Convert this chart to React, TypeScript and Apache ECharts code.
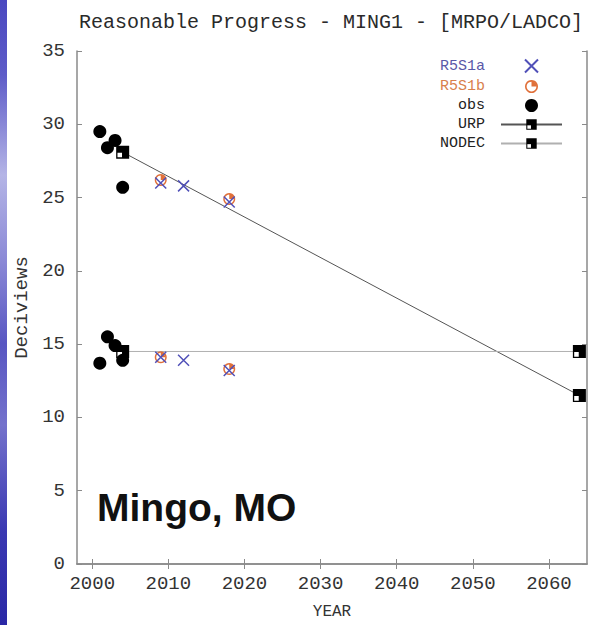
import React, { useEffect, useRef } from "react";
import * as echarts from "echarts";

const titleText = "Reasonable Progress - MING1 - [MRPO/LADCO]";
const siteLabel = "Mingo, MO";
const xTickValues = [2000, 2010, 2020, 2030, 2040, 2050, 2060];
const obsWorst = [[2001, 29.5], [2002, 28.4], [2003, 28.9], [2004, 25.7]];
const obsBest = [[2001, 13.7], [2002, 15.5], [2003, 14.9], [2004, 13.9]];
const r5s1aWorst = [[2009, 26.0], [2012, 25.8], [2018, 24.7]];
const r5s1aBest = [[2009, 14.1], [2012, 13.9], [2018, 13.2]];
const r5s1bWorst = [[2009, 26.2], [2018, 24.9]];
const r5s1bBest = [[2009, 14.1], [2018, 13.3]];
const urpLine = [[2004, 28.1], [2064, 11.5]];
const nodecLine = [[2004, 14.5], [2064, 14.5]];

const squareSym = "path://M0 0H10V10H0Z M1 5.5V9H4.5V5.5Z";
const quadCircleSym =
  "path://M10 0A10 10 0 1 1 9.99 0Z M10 2.5A7.5 7.5 0 1 0 10.01 2.5Z M10 10V2.5A7.5 7.5 0 0 1 17.5 10Z";
const crossSym = "path://M0 0L10 10M10 0L0 10";

const mono = "Liberation Mono";

export default function App() {
  const ref = useRef<HTMLDivElement>(null);
  useEffect(() => {
    if (!ref.current) return;
    const chart = echarts.init(ref.current, null, { renderer: "svg" });
    const axisCol = "#8a8a8a";
    chart.setOption({
      animation: false,
      backgroundColor: "#ffffff",
      title: {
        text: titleText,
        left: 74,
        top: 7,
        textStyle: { fontFamily: mono, fontSize: 20, fontWeight: "normal", color: "#2a2a2a" },
      },
      grid: { left: 77, right: 6, top: 51, bottom: 61, outerBoundsMode: "none" },
      legend: {
        orient: "vertical",
        align: "right",
        right: 25,
        top: 52,
        itemWidth: 61,
        itemHeight: 13,
        itemGap: 4,
        textStyle: { fontFamily: mono, fontSize: 15, padding: [0, 11, 0, 0] },
        data: [
          { name: "R5S1a", textStyle: { color: "#5a58a8" } },
          { name: "R5S1b", textStyle: { color: "#d8804c" } },
          { name: "obs", textStyle: { color: "#222" } },
          { name: "URP", textStyle: { color: "#222" } },
          { name: "NODEC", textStyle: { color: "#222" } },
        ],
      },
      xAxis: [
        {
          type: "value",
          min: 1998,
          max: 2065,
          name: "YEAR",
          nameLocation: "middle",
          nameGap: 40,
          nameTextStyle: { fontFamily: mono, fontSize: 16, color: "#333" },
          axisLine: { show: true, lineStyle: { color: axisCol, width: 1.5 } },
          axisTick: { show: true, inside: true, length: 5, customValues: xTickValues, lineStyle: { color: axisCol } },
          axisLabel: {
            customValues: xTickValues,
            formatter: (v: number) => String(v),
            fontFamily: mono,
            fontSize: 19,
            color: "#333",
            margin: 10,
          },
          splitLine: { show: false },
        },
        {
          type: "value",
          min: 1998,
          max: 2065,
          position: "top",
          axisLine: { show: true, lineStyle: { color: axisCol, width: 1.5 } },
          axisTick: { show: true, inside: true, length: 5, customValues: xTickValues, lineStyle: { color: axisCol } },
          axisLabel: { show: false },
          splitLine: { show: false },
        },
      ],
      yAxis: [
        {
          type: "value",
          min: 0,
          max: 35,
          interval: 5,
          name: "Deciviews",
          nameLocation: "middle",
          nameGap: 46,
          nameTextStyle: { fontFamily: mono, fontSize: 19, color: "#333" },
          axisLine: { show: true, lineStyle: { color: axisCol, width: 1.5 } },
          axisTick: { show: true, inside: true, length: 5, lineStyle: { color: axisCol } },
          axisLabel: { fontFamily: mono, fontSize: 19, color: "#333", margin: 12 },
          splitLine: { show: false },
        },
        {
          type: "value",
          min: 0,
          max: 35,
          interval: 5,
          position: "right",
          axisLine: { show: true, lineStyle: { color: axisCol, width: 1.5 } },
          axisTick: { show: true, inside: true, length: 5, lineStyle: { color: axisCol } },
          axisLabel: { show: false },
          splitLine: { show: false },
        },
      ],
      series: [
        {
          name: "obs",
          type: "scatter",
          symbol: "circle",
          symbolSize: 13,
          itemStyle: { color: "#000", opacity: 1 },
          data: [...obsWorst, ...obsBest],
        },
        {
          name: "URP",
          type: "line",
          data: urpLine,
          symbol: squareSym,
          symbolSize: 13,
          showSymbol: true,
          itemStyle: { color: "#000" },
          lineStyle: { color: "#555", width: 1 },
          z: 3,
        },
        {
          name: "NODEC",
          type: "line",
          data: nodecLine,
          symbol: squareSym,
          symbolSize: 13,
          showSymbol: true,
          itemStyle: { color: "#000" },
          lineStyle: { color: "#b0b0b0", width: 1 },
          z: 3,
        },
        {
          name: "R5S1b",
          type: "scatter",
          symbol: quadCircleSym,
          symbolSize: 12,
          itemStyle: { color: "#e0703a", opacity: 1 },
          data: [...r5s1bWorst, ...r5s1bBest],
          z: 4,
        },
        {
          name: "R5S1a",
          type: "scatter",
          symbol: crossSym,
          symbolSize: 11,
          itemStyle: { color: "none", borderColor: "#5050b8", borderWidth: 1.5, opacity: 1 },
          data: [...r5s1aWorst, ...r5s1aBest],
          z: 5,
        },
      ],
      graphic: [
        {
          type: "rect",
          left: 0,
          top: 0,
          shape: { width: 7, height: 625 },
          style: {
            fill: new echarts.graphic.LinearGradient(0, 0, 0, 1, [
              { offset: 0, color: "#4a48c0" },
              { offset: 0.12, color: "#5e5cc8" },
              { offset: 0.28, color: "#b4b4e6" },
              { offset: 0.42, color: "#8a88d6" },
              { offset: 0.55, color: "#5856c2" },
              { offset: 0.68, color: "#7472cc" },
              { offset: 0.85, color: "#3a38b2" },
              { offset: 1, color: "#2a28a6" },
            ]),
          },
        },
        {
          type: "text",
          left: 97,
          top: 488,
          style: {
            text: siteLabel,
            font: "bold 39px 'Liberation Sans', Arial, sans-serif",
            fill: "#111",
          },
        },
      ],
    });
    return () => chart.dispose();
  }, []);
  return (
    <div
      ref={ref}
      style={{ position: "fixed", left: 0, top: 0, width: 593, height: 625 }}
    />
  );
}
